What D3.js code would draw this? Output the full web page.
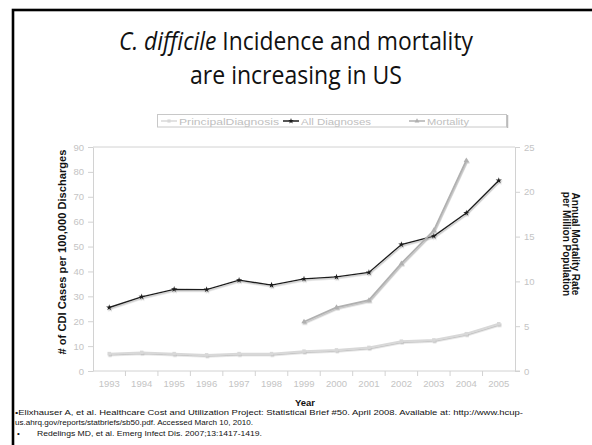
<!DOCTYPE html>
<html>
<head>
<meta charset="utf-8">
<script src="https://cdn.jsdelivr.net/npm/d3@7"></script>
<style>
  html, body { margin: 0; padding: 0; background: #fff; }
  svg { display: block; }
</style>
</head>
<body>
<svg id="chart" width="592" height="445"></svg>
<script>
// CDI incidence (per 100,000 discharges) and mortality (per million population), US
const years = ["1993","1994","1995","1996","1997","1998","1999","2000","2001","2002","2003","2004","2005"];
const principalDiagnosis = [7, 7.5, 7, 6.5, 7, 7, 8, 8.5, 9.5, 12, 12.5, 15, 19];
const allDiagnoses = [25.5, 29.8, 32.8, 32.7, 36.5, 34.5, 37, 37.8, 39.6, 50.8, 54.2, 63.5, 76.5];
const mortality = [null, null, null, null, null, null, 5.5, 7.1, 7.9, 12, 15.7, 23.5, null];
const leftTicks = [0, 10, 20, 30, 40, 50, 60, 70, 80, 90];
const rightTicks = [0, 5, 10, 15, 20, 25];

const svg = d3.select("#chart");

// slide frame
svg.append("rect")
  .attr("x", 13).attr("y", 10)
  .attr("width", 640).attr("height", 500)
  .attr("fill", "none").attr("stroke", "#000").attr("stroke-width", 2.6);

// title
const title = svg.append("text")
  .attr("text-anchor", "middle")
  .attr("font-family", "'Open Sans', 'Noto Sans', sans-serif")
  .attr("font-size", 25)
  .attr("fill", "#111");
const t1 = title.append("tspan").attr("x", 296).attr("y", 50)
  .attr("textLength", 354).attr("lengthAdjust", "spacingAndGlyphs");
t1.append("tspan").attr("font-style", "italic").text("C. difficile");
t1.append("tspan").text(" Incidence and mortality");
svg.append("text")
  .attr("x", 296).attr("y", 84)
  .attr("text-anchor", "middle")
  .attr("font-family", "'Open Sans', 'Noto Sans', sans-serif")
  .attr("font-size", 25).attr("fill", "#111")
  .attr("textLength", 212).attr("lengthAdjust", "spacingAndGlyphs")
  .text("are increasing in US");

// scales
const x = d3.scaleBand().domain(years).range([93, 515]);
const yL = d3.scaleLinear().domain([0, 90]).range([371, 147]);
const yR = d3.scaleLinear().domain([0, 25]).range([371, 147]);

const axisColor = "#d2d2d2";
const labelColor = "#c4c4c4";
const tickFont = "'Liberation Sans', Arial, sans-serif";

// drop shadow used by the series lines
const defs = svg.append("defs");
const f = defs.append("filter").attr("id", "shadow")
  .attr("x", "-10%").attr("y", "-10%").attr("width", "120%").attr("height", "130%");
f.append("feDropShadow").attr("dx", 0.8).attr("dy", 1.4).attr("stdDeviation", 0.4)
  .attr("flood-color", "#999").attr("flood-opacity", 0.6);

// top gridline
svg.append("line")
  .attr("x1", 93).attr("x2", 515).attr("y1", yL(90)).attr("y2", yL(90))
  .attr("stroke", axisColor).attr("stroke-width", 1);

function styleAxis(g) {
  g.selectAll("path, line").attr("stroke", axisColor);
  g.selectAll("text").attr("fill", labelColor)
    .attr("font-family", tickFont).attr("font-size", 9.5);
}

// left axis
svg.append("g").attr("transform", "translate(93,0)")
  .call(d3.axisLeft(yL).tickValues(leftTicks).tickSize(5).tickSizeOuter(0).tickPadding(4))
  .call(styleAxis);

// right axis
svg.append("g").attr("transform", "translate(515,0)")
  .call(d3.axisRight(yR).tickValues(rightTicks).tickSize(5).tickSizeOuter(0).tickPadding(4))
  .call(styleAxis);

// bottom axis: ticks on category boundaries, labels centered
const xg = svg.append("g").attr("transform", "translate(0,371)");
xg.append("line").attr("x1", 93).attr("x2", 520).attr("stroke", axisColor);
xg.selectAll(".bt").data(years.slice(1)).join("line")
  .attr("x1", d => x(d)).attr("x2", d => x(d)).attr("y1", 0).attr("y2", 5)
  .attr("stroke", axisColor);
xg.selectAll(".bl").data(years).join("text")
  .attr("x", d => x(d) + x.bandwidth() / 2).attr("y", 16)
  .attr("text-anchor", "middle")
  .attr("fill", labelColor).attr("font-family", tickFont).attr("font-size", 9.5)
  .text(d => d);

// axis titles
const boldFont = "'Liberation Sans', Arial, sans-serif";
svg.append("text")
  .attr("transform", "translate(66,252) rotate(-90)")
  .attr("text-anchor", "middle").attr("font-family", boldFont)
  .attr("font-weight", "bold").attr("font-size", 10.5).attr("fill", "#111")
  .attr("textLength", 205).attr("lengthAdjust", "spacingAndGlyphs")
  .text("# of CDI Cases per 100,000 Discharges");
const rt = svg.append("text")
  .attr("transform", "translate(572,244) rotate(90)")
  .attr("text-anchor", "middle").attr("font-family", boldFont)
  .attr("font-weight", "bold").attr("font-size", 10).attr("fill", "#111");
rt.append("tspan").attr("x", 0).attr("y", 0).text("Annual Mortality Rate");
rt.append("tspan").attr("x", 0).attr("y", 9.5).text("per Million Population");
svg.append("text")
  .attr("x", 305).attr("y", 406).attr("text-anchor", "middle")
  .attr("font-family", boldFont).attr("font-weight", "bold")
  .attr("font-size", 9.5).attr("fill", "#111").text("Year");

// series
const series = [
  { name: "Principal Diagnosis", values: principalDiagnosis, scale: yL, color: "#d8d8d8", width: 1.8, marker: "square" },
  { name: "All Diagnoses", values: allDiagnoses, scale: yL, color: "#1e1e1e", width: 1.4, marker: "star" },
  { name: "Mortality", values: mortality, scale: yR, color: "#b0b0b0", width: 1.8, marker: "triangle" }
];
const cx = d => x(d) + x.bandwidth() / 2;
const symbolFor = { square: d3.symbolSquare, star: d3.symbolStar, triangle: d3.symbolTriangle };

series.forEach(s => {
  const pts = years.map((yr, i) => ({ yr, v: s.values[i] })).filter(p => p.v != null);
  const line = d3.line().x(p => cx(p.yr)).y(p => s.scale(p.v));
  const g = svg.append("g").attr("filter", "url(#shadow)");
  g.append("path").datum(pts)
    .attr("d", line).attr("fill", "none")
    .attr("stroke", s.color).attr("stroke-width", s.width);
  g.selectAll("path.m").data(pts).join("path")
    .attr("class", "m")
    .attr("transform", p => `translate(${cx(p.yr)},${s.scale(p.v)})`)
    .attr("d", d3.symbol(symbolFor[s.marker], 12)())
    .attr("fill", s.color);
});

// legend
const lg = svg.append("g");
lg.append("rect").attr("x", 157.5).attr("y", 114.5).attr("width", 349).attr("height", 12.5)
  .attr("fill", "#fff").attr("stroke", "#c8c8c8").attr("stroke-width", 1);
lg.append("line").attr("x1", 507.5).attr("x2", 507.5).attr("y1", 115).attr("y2", 128)
  .attr("stroke", "#bbb").attr("stroke-width", 1.5);
const legendX = [161, 283, 409];
const legendW = [100, 70, 42];
series.forEach((s, i) => {
  const g = lg.append("g").attr("transform", `translate(${legendX[i]},121)`);
  g.append("line").attr("x1", 0).attr("x2", 16).attr("stroke", s.color).attr("stroke-width", 1.5);
  g.append("path").attr("transform", "translate(8,0)")
    .attr("d", d3.symbol(symbolFor[s.marker], 10)()).attr("fill", s.color);
  g.append("text").attr("x", 18).attr("y", 3.5)
    .attr("font-family", tickFont).attr("font-size", 9.5).attr("fill", "#c0c0c0")
    .attr("textLength", legendW[i]).attr("lengthAdjust", "spacingAndGlyphs")
    .text(s.name === "Principal Diagnosis" ? "PrincipalDiagnosis" : s.name);
});

// references
const refs = svg.append("g").attr("font-family", tickFont).attr("font-size", 8).attr("fill", "#111")
  .attr("lengthAdjust", "spacingAndGlyphs");
refs.append("text").attr("x", 15).attr("y", 415).attr("textLength", 508).attr("lengthAdjust", "spacingAndGlyphs")
  .text("•Elixhauser A, et al. Healthcare Cost and Utilization Project: Statistical Brief #50. April 2008. Available at: http://www.hcup-");
refs.append("text").attr("x", 15).attr("y", 425).attr("textLength", 238).attr("lengthAdjust", "spacingAndGlyphs")
  .text("us.ahrq.gov/reports/statbriefs/sb50.pdf. Accessed March 10, 2010.");
refs.append("text").attr("x", 17).attr("y", 436).text("•");
refs.append("text").attr("x", 37).attr("y", 436).attr("textLength", 225).attr("lengthAdjust", "spacingAndGlyphs")
  .text("Redelings MD, et al. Emerg Infect Dis. 2007;13:1417-1419.");
</script>
</body>
</html>
